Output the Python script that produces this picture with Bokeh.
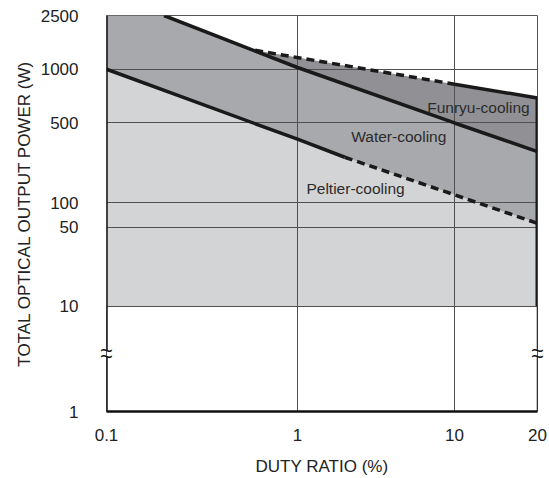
import numpy as np
from bokeh.plotting import figure
from bokeh.models import (CustomJSTransform, FixedTicker, CustomJSTickFormatter,
                          ColumnDataSource, Range1d)
from bokeh.transform import transform
from bokeh.core.properties import value
from bokeh.embed import file_html
from bokeh.resources import INLINE

# ---------------- data ----------------
x_ticks = [0.1, 1, 10, 20]
x_tick_labels = ["0.1", "1", "10", "20"]
y_ticks = [1, 10, 50, 100, 500, 1000, 2500]
y_tick_labels = ["1", "10", "50", "100", "500", "1000", "2500"]
x_grid_values = [1, 10]
y_grid_values = [10, 50, 100, 500, 1000]

peltier_solid_duty = [0.1, 1, 2]
peltier_solid_power = [1000, 360, 250]
peltier_dashed_duty = [2, 10, 20]
peltier_dashed_power = [250, 117, 56]

water_duty = [0.2, 1, 10, 20]
water_power = [2500, 1030, 500, 280]

funryu_dashed_duty = [0.6, 10]
funryu_dashed_power = [1380, 825]
funryu_solid_duty = [10, 20]
funryu_solid_power = [825, 690]

duty_min, duty_max = 0.1, 20
power_min, power_max = 1, 2500
fill_floor = 10
break_low, break_high = 3.3, 3.76   # axis break (between 1 and 10)

label_duty = [6.7, 2.2, 1.14]
label_power = [614, 378, 133]
label_text = ["Funryu-cooling", "Water-cooling", "Peltier-cooling"]

# ------------- schematic (non-uniform) log scale of the original drawing -------------
x_anchor_frac = [0.0, 0.4432, 0.8074, 1.0]
y_anchor_frac = [0.0, 0.2663, 0.4648, 0.5276, 0.7286, 0.8643, 1.0]

JS = """
function w(v) {
  const lv = Math.log10(v);
  const n = lt.length;
  if (lv <= lt[0]) return ps[0] + (lv - lt[0]) * (ps[1] - ps[0]) / (lt[1] - lt[0]);
  for (let k = 1; k < n; k++) {
    if (lv <= lt[k]) {
      const f = (lv - lt[k-1]) / (lt[k] - lt[k-1]);
      return ps[k-1] + f * (ps[k] - ps[k-1]);
    }
  }
  return ps[n-1] + (lv - lt[n-1]) * (ps[n-1] - ps[n-2]) / (lt[n-1] - lt[n-2]);
}
"""

def make_tf(ticks, frac):
    lt = [float(np.log10(t)) for t in ticks]
    return CustomJSTransform(args=dict(lt=lt, ps=frac),
                             func=JS + "return w(x);",
                             v_func=JS + "const out = []; for (let i = 0; i < xs.length; i++) out.push(w(xs[i])); return out;")

def warp_py(vals, ticks, frac):
    return [float(v) for v in np.interp(np.log10(vals), np.log10(ticks), frac)]

xw = make_tf(x_ticks, x_anchor_frac)
yw = make_tf(y_ticks, y_anchor_frac)

X = lambda c: transform(c, xw)
Y = lambda c: transform(c, yw)

# ------------- polygons from the data -------------
pelt_x = peltier_solid_duty + peltier_dashed_duty[1:]
pelt_y = peltier_solid_power + peltier_dashed_power[1:]
light_x = pelt_x + [duty_max, duty_min]
light_y = pelt_y + [fill_floor, fill_floor]
mid_x = [duty_min] + water_duty + pelt_x[::-1]
mid_y = [power_max] + water_power + pelt_y[::-1]
fun_x_line = funryu_dashed_duty + funryu_solid_duty[1:]
fun_y_line = funryu_dashed_power + funryu_solid_power[1:]
wback = [(a, b) for a, b in zip(water_duty, water_power) if a > funryu_dashed_duty[0]][::-1]
dark_x = fun_x_line + [a for a, b in wback]
dark_y = fun_y_line + [b for a, b in wback]

p = figure(width=549, height=478, x_range=Range1d(0, 1), y_range=Range1d(0, 1),
           output_backend="svg", toolbar_location=None,
           min_border_left=106, min_border_right=12, min_border_top=15, min_border_bottom=65)
p.background_fill_color = "white"
p.border_fill_color = "white"
p.outline_line_color = "#555555"
p.outline_line_width = 1

FONT = "Liberation Sans"
light, mid, dark = "#d3d4d6", "#a8a9ac", "#919195"

for xs, ys, col in [(light_x, light_y, light), (mid_x, mid_y, mid), (dark_x, dark_y, dark)]:
    src = ColumnDataSource(dict(x=xs, y=ys))
    p.patch(x=X("x"), y=Y("y"), source=src, fill_color=col, line_color=None, level="image")

LC = "#1a1a1a"
LW = 3.5
def line(xs, ys, dash="solid", width=LW, color=LC):
    src = ColumnDataSource(dict(x=xs, y=ys))
    p.line(x=X("x"), y=Y("y"), source=src, line_color=color, line_width=width, line_dash=dash)

line(peltier_solid_duty, peltier_solid_power)
line(peltier_dashed_duty, peltier_dashed_power, dash="8 5")
line(water_duty, water_power)
line(funryu_dashed_duty, funryu_dashed_power, dash="8 5")
line(funryu_solid_duty, funryu_solid_power)
# right edge of the shaded area at 20 %
line([duty_max, duty_max], [funryu_solid_power[-1], fill_floor], width=4)
# right side below the shading, broken
line([duty_max, duty_max], [power_min, break_low], width=1.5, color="#111111")
line([duty_max, duty_max], [break_high, fill_floor], width=1.5, color="#111111")
# left axis line, broken
line([duty_min, duty_min], [power_min, break_low], width=2.5, color="#111111")
line([duty_min, duty_min], [break_high, power_max], width=2.5, color="#111111")

# labels
lsrc = ColumnDataSource(dict(x=label_duty, y=label_power, t=label_text))
p.text(x=X("x"), y=Y("y"), text="t", source=lsrc, text_font=value(FONT),
       text_font_size="15.5px", text_color="#2b2b2b", text_baseline="middle", text_align="left")

# axis break marks
bsrc = ColumnDataSource(dict(x=[duty_min, duty_max, duty_min, duty_max],
                             y=[break_low, break_low, break_high, break_high]))
p.text(x=X("x"), y=Y("y"), text=value("~"), source=bsrc, text_font=value(FONT),
       text_font_size="22px", text_color="#111111", text_baseline="middle", text_align="center",
       level="overlay")

# axes
xt = warp_py(x_ticks, x_ticks, x_anchor_frac)
yt = warp_py(y_ticks, y_ticks, y_anchor_frac)
fmt_code = """
let b = 0;
for (let k = 0; k < ps.length; k++) if (Math.abs(ps[k] - tick) < Math.abs(ps[b] - tick)) b = k;
return labels[b];
"""
p.xaxis.ticker = FixedTicker(ticks=xt)
p.xaxis.formatter = CustomJSTickFormatter(args=dict(ps=xt, labels=x_tick_labels), code=fmt_code)
p.yaxis.ticker = FixedTicker(ticks=yt)
p.yaxis.formatter = CustomJSTickFormatter(args=dict(ps=yt, labels=y_tick_labels), code=fmt_code)

p.xgrid.ticker = FixedTicker(ticks=warp_py(x_grid_values, x_ticks, x_anchor_frac))
p.ygrid.ticker = FixedTicker(ticks=warp_py(y_grid_values, y_ticks, y_anchor_frac))
for g in (p.xgrid, p.ygrid):
    g.grid_line_color = "#505050"
    g.grid_line_width = 1
    g.grid_line_alpha = 1

for ax in (p.xaxis, p.yaxis):
    ax.major_tick_line_color = None
    ax.minor_tick_line_color = None
    ax.axis_line_color = "#111111"
    ax.axis_line_width = 2.5
    ax.major_label_text_font = FONT
    ax.major_label_text_font_size = "17px"
    ax.major_label_text_color = "#222222"
    ax.axis_label_text_font = FONT
    ax.axis_label_text_font_size = "17px"
    ax.axis_label_text_font_style = "normal"
    ax.axis_label_text_color = "#222222"
p.yaxis.axis_line_color = None

p.xaxis.axis_label = "DUTY RATIO (%)"
p.yaxis.axis_label = "TOTAL OPTICAL OUTPUT POWER (W)"
p.xaxis.major_label_standoff = 11
p.xaxis.axis_label_standoff = 13
p.yaxis.major_label_standoff = 22
p.yaxis.axis_label_standoff = 4

open("out.html", "w").write(file_html(p, INLINE))
